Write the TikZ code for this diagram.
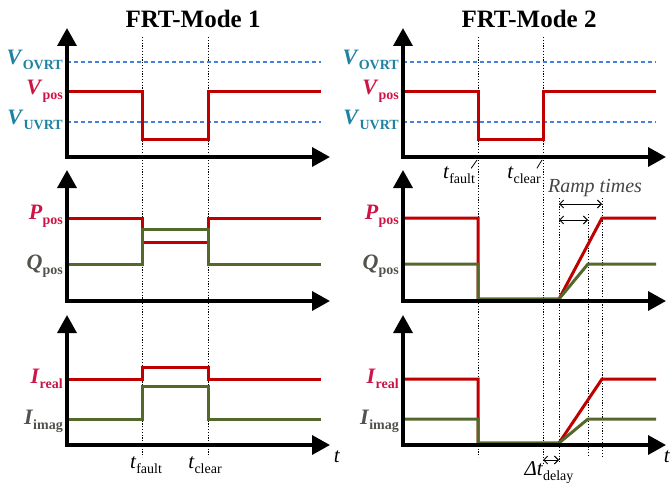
\documentclass[tikz,border=0pt]{standalone}
\usepackage{fontspec}
\setmainfont{Liberation Serif}
\usetikzlibrary{arrows.meta}
\definecolor{sigred}{RGB}{192,0,0}
\definecolor{siggreen}{RGB}{84,104,44}
\definecolor{thrblue}{RGB}{70,130,220}
\definecolor{lblteal}{RGB}{30,130,160}
\definecolor{lblred}{RGB}{205,20,70}
\definecolor{lblgray}{RGB}{80,82,76}
\definecolor{rampgray}{RGB}{70,70,70}
\newcommand\siglbl[2]{\textbf{\textit{#1}}\raisebox{-5pt}{\fontsize{14}{14}\selectfont\textbf{#2}}}
\newcommand\tlbl[2]{\textit{#1}\raisebox{-5pt}{\fontsize{14}{14}\selectfont #2}}
\tikzset{
  axisline/.style={line width=3.5pt, line join=miter,
    {Triangle[width=19pt,length=18pt]}-{Triangle[width=19pt,length=18pt]}},
  sigr/.style={line width=3pt, sigred, line join=miter},
  sigg/.style={line width=3pt, siggreen, line join=miter},
  thr/.style={line width=1.5pt, thrblue, dash pattern=on 4pt off 3pt},
  vdot/.style={line width=0.8pt, black, dash pattern=on 1.2pt off 1.6pt},
  lbl/.style={anchor=east, inner sep=0pt, font=\fontsize{22}{22}\selectfont},
  tl/.style={inner sep=0pt, font=\fontsize{21}{21}\selectfont},
  ttl/.style={inner sep=0pt, font=\fontsize{25}{25}\selectfont\bfseries},
  rampar/.style={line width=0.9pt, {Straight Barb[length=4pt,width=8pt]}-{Straight Barb[length=4pt,width=8pt]}}
}
\begin{document}
\begin{tikzpicture}[x=1pt,y=-1pt]
\useasboundingbox (0,0) rectangle (672,487);
% titles
\node[ttl] (title1) at (193,19) {FRT-Mode 1};
\node[ttl] (title2) at (529,19) {FRT-Mode 2};

% ---------- named coordinates ----------
\coordinate (L1y) at (67,28);  \coordinate (L1x) at (330,157);
\coordinate (L2y) at (67,170); \coordinate (L2x) at (330,301);
\coordinate (L3y) at (67,315); \coordinate (L3x) at (330,445);
\coordinate (R1y) at (403,28);  \coordinate (R1x) at (666,157);
\coordinate (R2y) at (403,170); \coordinate (R2x) at (666,301);
\coordinate (R3y) at (403,315); \coordinate (R3x) at (666,445);

% ---------- dotted time markers ----------
\draw[vdot] (142,37) -- (142,457);
\draw[vdot] (208,37) -- (208,457);
\draw[vdot] (478,37) -- (478,457);
\draw[vdot] (543,37) -- (543,463);
\draw[vdot] (559,198) -- (559,463);
\draw[vdot] (588,214) -- (588,457);
\draw[vdot] (602,198) -- (602,457);

% ---------- thresholds ----------
\draw[thr] (67,62) -- (321,62);
\draw[thr] (67,122) -- (321,122);
\draw[thr] (403,62) -- (656,62);
\draw[thr] (403,122) -- (656,122);

% ---------- left signals ----------
\draw[sigr] (67,91) -- (142,91) -- (142,139) -- (208,139) -- (208,91) -- (321,91);
\draw[sigr] (67,218) -- (142,218) -- (142,242) -- (208,242) -- (208,218) -- (321,218);
\draw[sigg] (67,264) -- (142,264) -- (142,229) -- (208,229) -- (208,264) -- (321,264);
\draw[sigr] (67,379) -- (142,379) -- (142,367) -- (208,367) -- (208,379) -- (321,379);
\draw[sigg] (67,419) -- (142,419) -- (142,386) -- (208,386) -- (208,419) -- (321,419);

% ---------- right signals ----------
\draw[sigr] (403,91) -- (478,91) -- (478,139) -- (543,139) -- (543,91) -- (656,91);
\draw[sigr] (403,218) -- (478,218) -- (478,299) -- (559,299) -- (602,218) -- (656,218);
\draw[sigg] (403,264) -- (478,264) -- (478,299) -- (559,299) -- (588,264) -- (656,264);
\draw[sigr] (403,379) -- (478,379) -- (478,443) -- (559,443) -- (602,379) -- (656,379);
\draw[sigg] (403,419) -- (478,419) -- (478,443) -- (559,443) -- (588,419) -- (656,419);

% ---------- axes ----------
\draw[axisline] (L1y) |- (L1x);
\draw[axisline] (L2y) |- (L2x);
\draw[axisline] (L3y) |- (L3x);
\draw[axisline] (R1y) |- (R1x);
\draw[axisline] (R2y) |- (R2x);
\draw[axisline] (R3y) |- (R3x);

% ---------- y labels ----------
\node[lbl, lblteal] (lovrt) at (63,60) {\siglbl{V}{OVRT}};
\node[lbl, lblred]  (lvpos) at (63,91) {\siglbl{V}{pos}};
\node[lbl, lblteal] (luvrt) at (63,120) {\siglbl{V}{UVRT}};
\node[lbl, lblred]  (lppos) at (63,216) {\siglbl{P}{pos}};
\node[lbl, lblgray] (lqpos) at (63,266) {\siglbl{Q}{pos}};
\node[lbl, lblred]  (lireal) at (63,379) {\siglbl{I}{real}};
\node[lbl, lblgray] (limag) at (63,421) {\siglbl{I}{imag}};

\node[lbl, lblteal] (rovrt) at (399,60) {\siglbl{V}{OVRT}};
\node[lbl, lblred]  (rvpos) at (399,91) {\siglbl{V}{pos}};
\node[lbl, lblteal] (ruvrt) at (399,120) {\siglbl{V}{UVRT}};
\node[lbl, lblred]  (rppos) at (399,216) {\siglbl{P}{pos}};
\node[lbl, lblgray] (rqpos) at (399,266) {\siglbl{Q}{pos}};
\node[lbl, lblred]  (rireal) at (399,379) {\siglbl{I}{real}};
\node[lbl, lblgray] (rimag) at (399,421) {\siglbl{I}{imag}};

% ---------- time labels ----------
\node[tl] (ltf) at (146,465) {\tlbl{t}{fault}};
\node[tl] (ltc) at (205,465) {\tlbl{t}{clear}};
\node[tl] (lt)  at (337,457) {\textit{t}};
\node[tl] (rt)  at (667,457) {\textit{t}};

\node[tl] (rtf) at (459,175) {\tlbl{t}{fault}};
\node[tl] (rtc) at (524,175) {\tlbl{t}{clear}};
\coordinate (rtfk) at (477,160);
\coordinate (rtck) at (542,160);
\draw[line width=0.8pt] (rtf.north east) ++(-4,2) -- (rtfk);
\draw[line width=0.8pt] (rtc.north east) ++(-4,2) -- (rtck);

% ---------- ramp times ----------
\node[tl, rampgray, font=\fontsize{20}{20}\selectfont\itshape] (ramp) at (595,188) {Ramp times};
\coordinate (ra1) at (559,204); \coordinate (ra2) at (602,204);
\coordinate (rb1) at (559,220); \coordinate (rb2) at (588,220);
\draw[rampar] (ra1) -- (ra2);
\draw[rampar] (rb1) -- (rb2);

% ---------- delay ----------
\coordinate (da) at (543,460); \coordinate (db) at (559,460);
\draw[rampar] (da) -- (db);
\node[tl] (delay) at (549,473) {\textit{Δt}\raisebox{-5pt}{\fontsize{14}{14}\selectfont delay}};
\end{tikzpicture}
\end{document}
